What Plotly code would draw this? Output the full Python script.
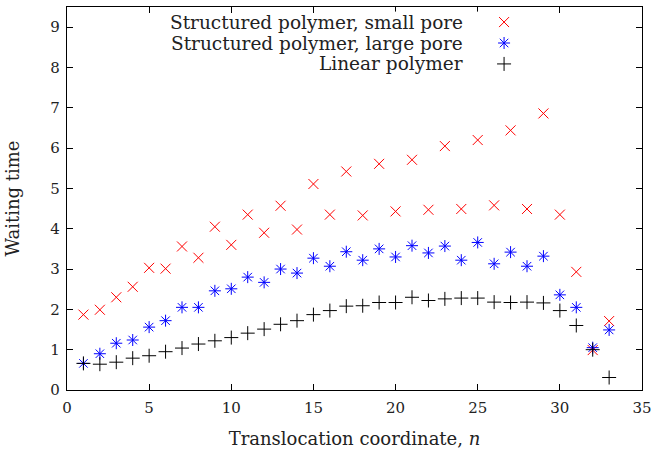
import plotly.graph_objects as go

n = list(range(1, 34))
small_pore = [1.87, 1.99, 2.30, 2.56, 3.03, 3.01, 3.56, 3.28, 4.05, 3.60,
              4.35, 3.90, 4.57, 3.98, 5.11, 4.35, 5.42, 4.33, 5.61, 4.43,
              5.71, 4.47, 6.05, 4.49, 6.20, 4.58, 6.44, 4.49, 6.86, 4.35,
              2.93, 0.99, 1.71]
large_pore = [0.66, 0.90, 1.16, 1.24, 1.56, 1.72, 2.05, 2.05, 2.46, 2.51,
              2.80, 2.67, 3.00, 2.90, 3.27, 3.07, 3.43, 3.22, 3.50, 3.30,
              3.58, 3.40, 3.57, 3.22, 3.66, 3.13, 3.42, 3.07, 3.32, 2.36,
              2.05, 1.05, 1.49]
linear = [0.66, 0.64, 0.69, 0.79, 0.85, 0.95, 1.04, 1.14, 1.22, 1.30,
          1.41, 1.51, 1.63, 1.72, 1.87, 1.97, 2.08, 2.09, 2.17, 2.17,
          2.30, 2.22, 2.26, 2.28, 2.28, 2.18, 2.17, 2.18, 2.16, 1.97,
          1.60, 1.00, 0.31]

names = ["Structured polymer, small pore", "Structured polymer, large pore", "Linear polymer"]
colors = ["#ff0000", "#0000ff", "#000000"]
symbols = ["x-thin-open", "asterisk-open", "cross-thin-open"]
series = [small_pore, large_pore, linear]

FONT = "DejaVu Serif"
fig = go.Figure()
for name, col, sym, ys in zip(names, colors, symbols, series):
    fig.add_trace(go.Scatter(x=n, y=ys, mode="markers", name=name, showlegend=False,
                             marker=dict(symbol=sym, size=10, color=col,
                                         line=dict(color=col, width=1))))

# gnuplot-style key: right-aligned text, sample symbol on the right
key_rows = [0.5, 1.5, 2.5]
for row, name, col, sym in zip(key_rows, names, colors, symbols):
    fig.add_trace(go.Scatter(x=[0.5], y=[row], xaxis="x2", yaxis="y2", mode="markers",
                             showlegend=False, hoverinfo="skip",
                             marker=dict(symbol=sym, size=10, color=col,
                                         line=dict(color=col, width=1))))
    fig.add_annotation(x=0, y=row, xref="x2", yref="y2", text=name, showarrow=False,
                       xanchor="right", yanchor="middle",
                       font=dict(family=FONT, size=18.5, color="#222"))

axis_common = dict(showline=True, linecolor="black", linewidth=1.2, mirror="ticks",
                   ticks="inside", ticklen=6, tickcolor="black", showgrid=False,
                   zeroline=False, automargin=False,
                   tickfont=dict(family=FONT, size=15, color="#222"))

fig.update_layout(
    width=653, height=449,
    margin=dict(l=67, r=11, t=7, b=59),
    paper_bgcolor="white", plot_bgcolor="white",
    xaxis=dict(range=[0, 35], dtick=5, tick0=0, ticklabelstandoff=4,
               title=dict(text="Translocation coordinate, <i>n</i>", standoff=18,
                          font=dict(family=FONT, size=18, color="#222")),
               **axis_common),
    yaxis=dict(range=[0, 9.5], dtick=1, tick0=0, ticklabelstandoff=3,
               title=dict(text="Waiting time", standoff=26,
                          font=dict(family=FONT, size=18, color="#222")),
               **axis_common),
    xaxis2=dict(domain=[0.5565, 0.828], range=[-1, 1], visible=False, anchor="y2"),
    yaxis2=dict(domain=[0.824, 0.988], range=[3, 0], visible=False, anchor="x2"),
)
fig.write_html("out.html", config={"displayModeBar": False},
               post_script="document.body.style.margin='0px';document.body.style.overflow='hidden';")
